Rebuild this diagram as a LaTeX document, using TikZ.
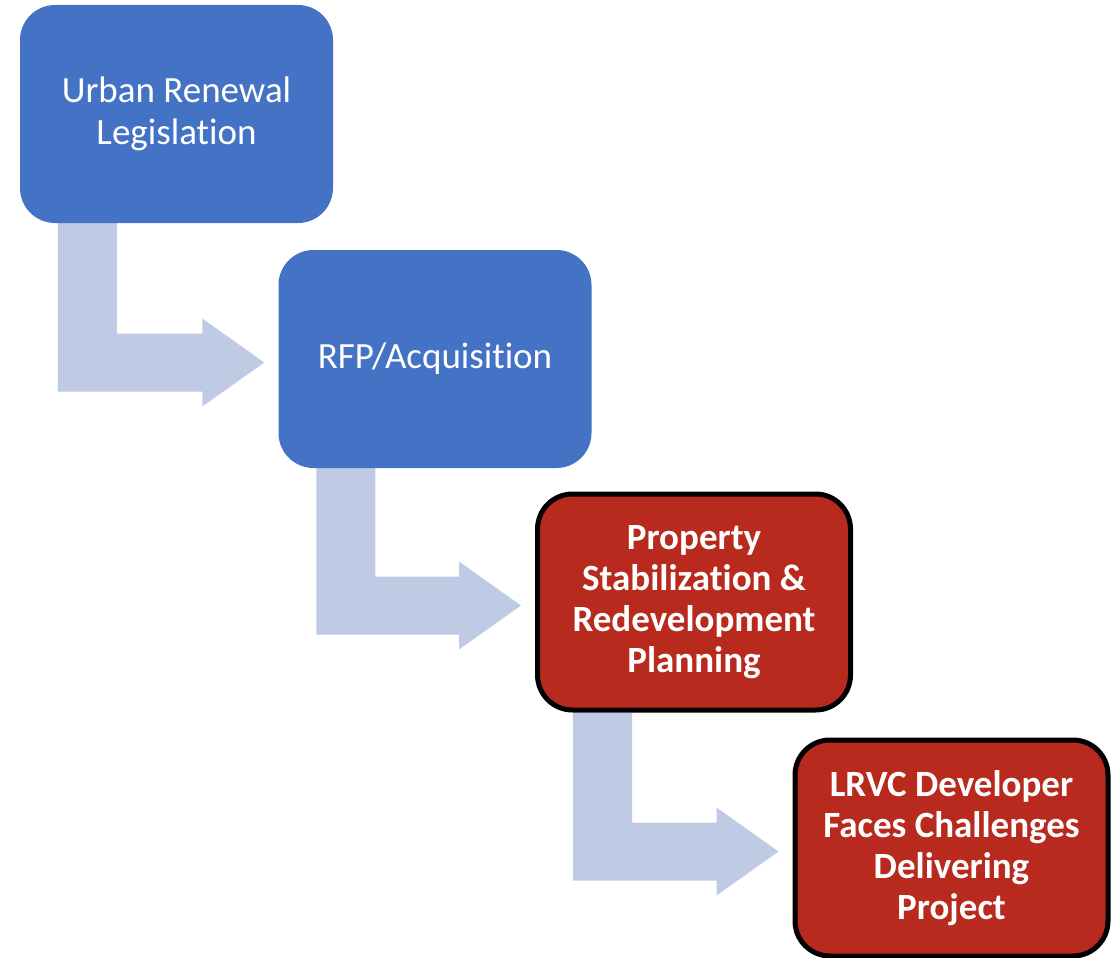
\documentclass[tikz,border=0pt]{standalone}
\usepackage{fontspec}
\setmainfont[Ligatures=NoCommon]{Carlito}
\usetikzlibrary{calc,backgrounds}
\definecolor{phaseblue}{HTML}{4472C4}
\definecolor{phasered}{HTML}{B8291E}
\definecolor{flow}{HTML}{BFCAE4}
\tikzset{sc/.style={x=1pt,y=-1pt},
  phase/.style={rounded corners=35pt,fill=phaseblue,text=white,align=center,inner sep=0pt,
    minimum width=313pt,minimum height=218pt,font=\fontsize{37}{42}\selectfont},
  hot/.style={phase,fill=phasered,draw=black,line width=5pt,minimum height=216pt,
    font=\fontsize{37}{41}\selectfont\bfseries}}

\begin{document}
\begin{tikzpicture}[sc]
  \useasboundingbox (0,0) rectangle (1119,958);
  \node[phase] (urban) at (176.5,114) {Urban Renewal\\Legislation};
  \node[phase] (rfp) at (435,359) {RFP/Acquisition};
  \node[hot] (prop) at (694,602) {Property\\Stabilization \&\\Redevelopment\\Planning};
  \node[hot] (lrvc) at (951.5,848) {LRVC Developer\\Faces Challenges\\Delivering\\Project};
  % bent arrows, down out of one box and right into the next
  \begin{scope}[on background layer]
  \foreach \a/\b in {urban/rfp,rfp/prop,prop/lrvc}
    \fill[flow] let \p1=(\a.south west), \p2=($(\b.west)+(0,3.5)$) in
      (\x1+38,\y1)--(\x1+97,\y1)--(\x1+97,\y2+29)--(\x2-76,\y2+29)--(\x2-76,\y2+44)
      --(\x2-14,\y2)--(\x2-76,\y2-44)--(\x2-76,\y2-29)--(\x1+38,\y2-29)--cycle;
  \end{scope}
\end{tikzpicture}
\end{document}
